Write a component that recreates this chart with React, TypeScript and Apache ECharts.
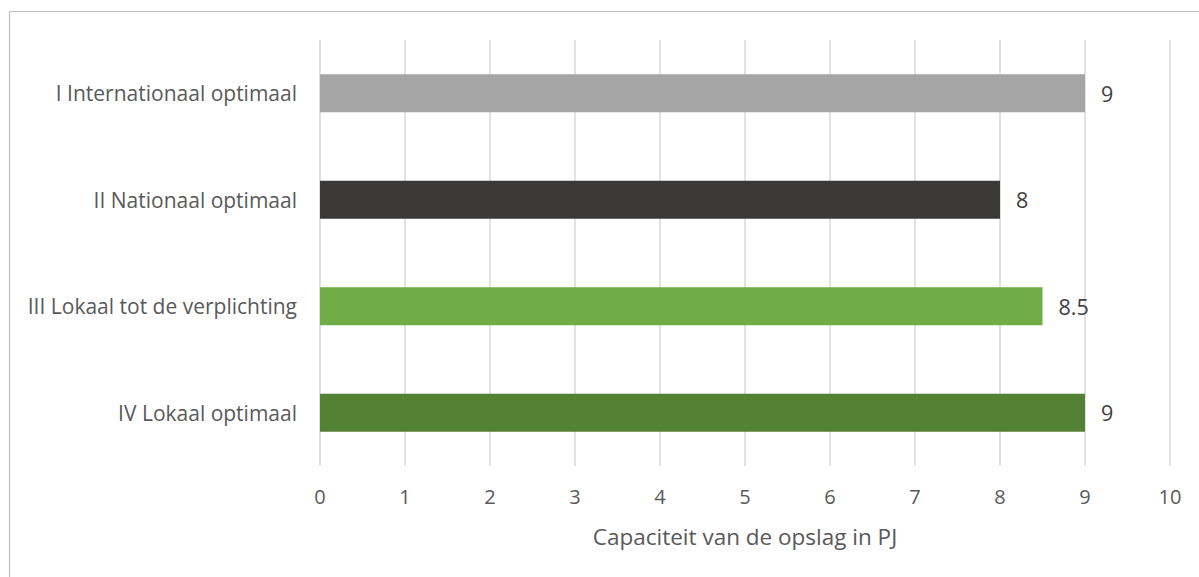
import React, { useEffect, useRef } from "react";
import * as echarts from "echarts";

const categories = [
  "I Internationaal optimaal",
  "II Nationaal optimaal",
  "III Lokaal tot de verplichting",
  "IV Lokaal optimaal",
];
const values = [9, 8, 8.5, 9];
const barColors = ["#a5a5a5", "#3b3838", "#70ad47", "#548235"];
const xTicks = [0, 1, 2, 3, 4, 5, 6, 7, 8, 9, 10];
const axisTitle = "Capaciteit van de opslag in PJ";

const FONT = "'Open Sans', 'Noto Sans', sans-serif";

export default function App() {
  const ref = useRef<HTMLDivElement>(null);

  useEffect(() => {
    if (!ref.current) return;
    const chart = echarts.init(ref.current, undefined, { renderer: "svg" });
    chart.setOption({
      animation: false,
      backgroundColor: "#ffffff",
      grid: { left: 320, right: 29, top: 40, bottom: 111, containLabel: false },
      xAxis: {
        type: "value",
        min: xTicks[0],
        max: xTicks[xTicks.length - 1],
        interval: 1,
        axisLine: { show: false },
        axisTick: { show: false },
        splitLine: { show: true, lineStyle: { color: "#d9d9d9", width: 1.5 } },
        axisLabel: { color: "#595959", fontSize: 20, fontFamily: FONT, margin: 20 },
        name: axisTitle,
        nameLocation: "middle",
        nameGap: 59,
        nameTextStyle: { color: "#595959", fontSize: 22.5, fontFamily: FONT },
      },
      yAxis: {
        type: "category",
        data: categories,
        inverse: true,
        axisLine: { show: false },
        axisTick: { show: false },
        axisLabel: { color: "#595959", fontSize: 21, fontFamily: FONT, margin: 23 },
      },
      series: [
        {
          type: "bar",
          barWidth: 38,
          data: values.map((v, i) => ({ value: v, itemStyle: { color: barColors[i] } })),
          label: {
            show: true,
            position: "right",
            distance: 16,
            color: "#404040",
            fontSize: 21.5,
            fontFamily: FONT,
          },
        },
      ],
      graphic: [
        { type: "line", shape: { x1: 9.5, y1: 11.5, x2: 1199, y2: 11.5 }, style: { stroke: "#bfbfbf", lineWidth: 1.2 } },
        { type: "line", shape: { x1: 9.5, y1: 11.5, x2: 9.5, y2: 577 }, style: { stroke: "#bfbfbf", lineWidth: 1.2 } },
      ],
    });
    return () => chart.dispose();
  }, []);

  return (
    <div
      ref={ref}
      style={{ position: "absolute", left: 0, top: 0, width: 1199, height: 577 }}
    />
  );
}
